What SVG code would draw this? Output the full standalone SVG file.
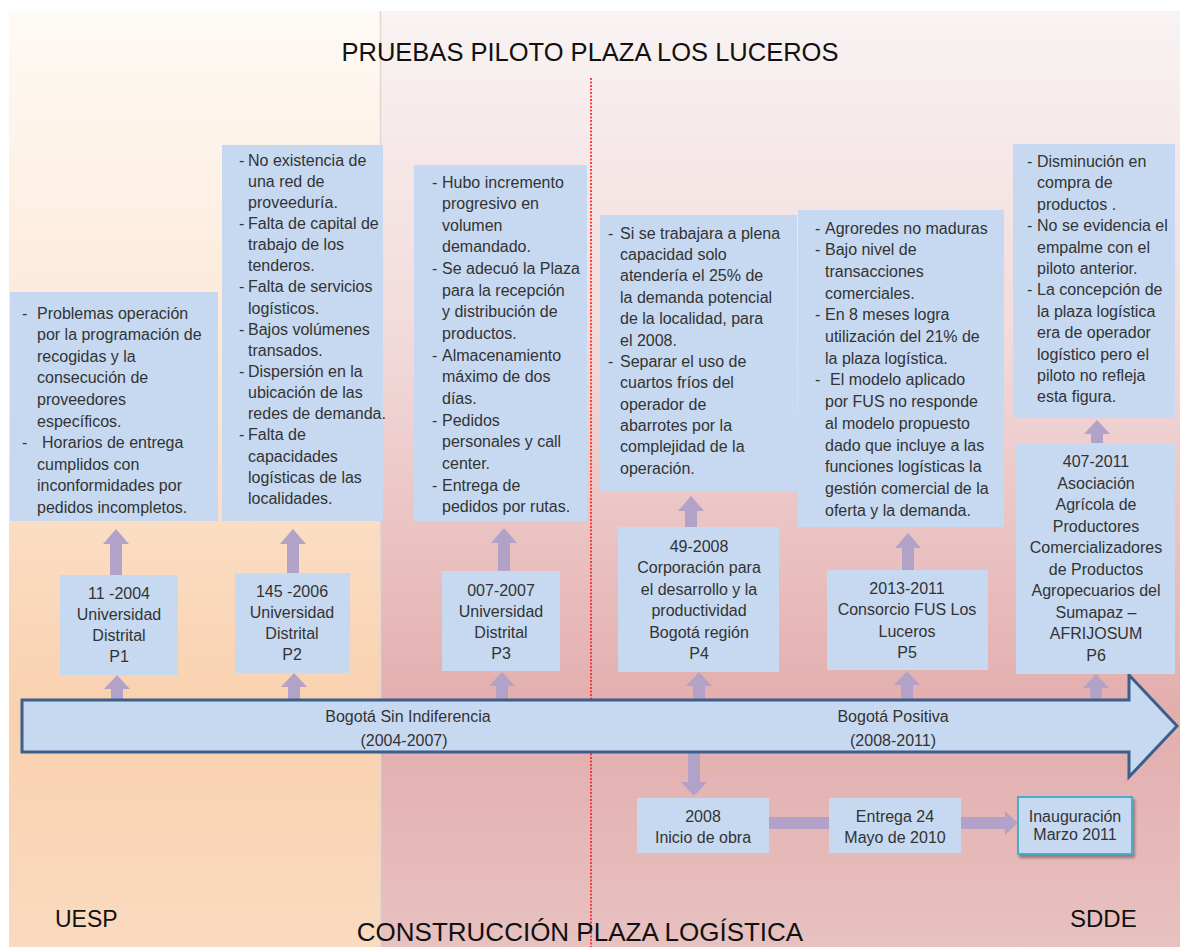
<svg xmlns="http://www.w3.org/2000/svg" width="1180" height="947" viewBox="0 0 1180 947">
<defs>
<linearGradient id="gl" x1="0" y1="0" x2="0" y2="1">
<stop offset="0" stop-color="#FEFAF5"/><stop offset="0.4" stop-color="#FCE6D3"/><stop offset="0.75" stop-color="#F9D1AE"/><stop offset="1" stop-color="#FADAC0"/>
</linearGradient>
<linearGradient id="gr" x1="0" y1="0" x2="0" y2="1">
<stop offset="0" stop-color="#F9F3F3"/><stop offset="0.35" stop-color="#F2DADA"/><stop offset="0.75" stop-color="#E3ADAD"/><stop offset="1" stop-color="#E8C1C1"/>
</linearGradient>
<filter id="sh" x="-10%" y="-10%" width="130%" height="140%"><feDropShadow dx="2" dy="3" stdDeviation="1.5" flood-color="#000" flood-opacity="0.35"/></filter>
<style>
.box{fill:#C6D9F1}
.t{font-family:"Liberation Sans",Arial,sans-serif;font-size:16px;fill:#333}
.c{text-anchor:middle}
.conn{fill:#B3A2C7}
.big{font-family:"Liberation Sans",Arial,sans-serif;fill:#111}
</style>
</defs>
<g id="background">
<rect x="9" y="11" width="371" height="936" fill="url(#gl)"/>
<rect x="380" y="11" width="800" height="936" fill="url(#gr)"/>
<line x1="380.5" y1="11" x2="380.5" y2="947" stroke="#E2D6D2" stroke-width="1.5"/>
<line x1="591" y1="78" x2="591" y2="947" stroke="#FF1A1A" stroke-width="1.6" stroke-dasharray="2,1.5"/>
<text class="big c" x="590" y="61" font-size="25.5">PRUEBAS PILOTO PLAZA LOS LUCEROS</text>
<text class="big" x="55" y="927" font-size="23">UESP</text>
<text class="big c" x="580" y="941" font-size="26">CONSTRUCCIÓN PLAZA LOGÍSTICA</text>
<text class="big" x="1070" y="927" font-size="24">SDDE</text>
</g>
<g id="connectors">
<path class="conn" d="M111,700 V689 H104 L117,675 L130,689 H123 V700 Z"/>
<path class="conn" d="M288,700 V687 H281 L294,673 L307,687 H300 V700 Z"/>
<path class="conn" d="M496,700 V686 H489 L502,672 L515,686 H508 V700 Z"/>
<path class="conn" d="M693,700 V686 H686 L699,672 L712,686 H705 V700 Z"/>
<path class="conn" d="M901,700 V685 H894 L907,671 L920,685 H913 V700 Z"/>
<path class="conn" d="M1090,700 V688 H1083 L1096,674 L1109,688 H1102 V700 Z"/>
<path class="conn" d="M110,575 V544 H103 L116,529 L129,544 H122 V575 Z"/>
<path class="conn" d="M287,573 V544 H280 L293,529 L306,544 H299 V573 Z"/>
<path class="conn" d="M498,571 V543 H491 L504,528 L517,543 H510 V571 Z"/>
<path class="conn" d="M685,527 V511 H678 L691,496 L704,511 H697 V527 Z"/>
<path class="conn" d="M902,570 V548 H895 L908,533 L921,548 H914 V570 Z"/>
<path class="conn" d="M1091,443 V434 H1084 L1097,420 L1110,434 H1103 V443 Z"/>
<path class="conn" d="M688,752 H700 V782 H707 L694,796 L681,782 H688 Z"/>
<rect class="conn" x="769" y="817" width="61" height="12"/>
<path class="conn" d="M961,817 H1005 V811 L1018,823 L1005,835 V829 H961 Z"/>
</g>
<g id="timeline">
<path d="M22,700 H1129 V675 L1177,726 L1129,777 V752 H22 Z" fill="#C6D9F1" stroke="#3A5F8C" stroke-width="3" stroke-linejoin="miter"/>
<text class="t c" font-size="16.5" x="408" y="721.5">Bogotá Sin Indiferencia</text>
<text class="t c" font-size="16.5" x="404" y="745.5">(2004-2007)</text>
<text class="t c" font-size="16.5" x="893" y="721.5">Bogotá Positiva</text>
<text class="t c" font-size="16.5" x="893" y="745.5">(2008-2011)</text>
</g>
<g id="note1">
<rect class="box" x="10" y="292" width="208" height="229"/>
<text class="t" x="22" y="318.5">-</text>
<text class="t" x="22" y="448.1">-</text>
<text class="t"><tspan x="37" y="318.5">Problemas operación</tspan><tspan x="37" dy="21.6">por la programación de</tspan><tspan x="37" dy="21.6">recogidas y la</tspan><tspan x="37" dy="21.6">consecución de</tspan><tspan x="37" dy="21.6">proveedores</tspan><tspan x="37" dy="21.6">específicos.</tspan><tspan x="42" dy="21.6">Horarios de entrega</tspan><tspan x="37" dy="21.6">cumplidos con</tspan><tspan x="37" dy="21.6">inconformidades por</tspan><tspan x="37" dy="21.6">pedidos incompletos.</tspan></text>
</g>
<g id="note2">
<rect class="box" x="222" y="145" width="161" height="376"/>
<text class="t"><tspan x="239" y="165.5">-</tspan><tspan x="239" dy="63.45">-</tspan><tspan x="239" dy="63.45">-</tspan><tspan x="239" dy="42.3">-</tspan><tspan x="239" dy="42.3">-</tspan><tspan x="239" dy="63.45">-</tspan></text>
<text class="t"><tspan x="248" y="165.5">No existencia de</tspan><tspan x="248" dy="21.15">una red  de</tspan><tspan x="248" dy="21.15">proveeduría.</tspan><tspan x="248" dy="21.15">Falta de capital de</tspan><tspan x="248" dy="21.15">trabajo de los</tspan><tspan x="248" dy="21.15">tenderos.</tspan><tspan x="248" dy="21.15">Falta de servicios</tspan><tspan x="248" dy="21.15">logísticos.</tspan><tspan x="248" dy="21.15">Bajos volúmenes</tspan><tspan x="248" dy="21.15">transados.</tspan><tspan x="248" dy="21.15">Dispersión en la</tspan><tspan x="248" dy="21.15">ubicación de las</tspan><tspan x="248" dy="21.15">redes de demanda.</tspan><tspan x="248" dy="21.15">Falta de</tspan><tspan x="248" dy="21.15">capacidades</tspan><tspan x="248" dy="21.15">logísticas de las</tspan><tspan x="248" dy="21.15">localidades.</tspan></text>
</g>
<g id="note3">
<rect class="box" x="414" y="165" width="173" height="356"/>
<text class="t"><tspan x="432" y="187.5">-</tspan><tspan x="432" dy="86.6">-</tspan><tspan x="432" dy="86.6">-</tspan><tspan x="432" dy="64.95">-</tspan><tspan x="432" dy="64.95">-</tspan></text>
<text class="t"><tspan x="442" y="187.5">Hubo incremento</tspan><tspan x="442" dy="21.65">progresivo en</tspan><tspan x="442" dy="21.65">volumen</tspan><tspan x="442" dy="21.65">demandado.</tspan><tspan x="442" dy="21.65">Se adecuó la Plaza</tspan><tspan x="442" dy="21.65">para la recepción</tspan><tspan x="442" dy="21.65">y distribución de</tspan><tspan x="442" dy="21.65">productos.</tspan><tspan x="442" dy="21.65">Almacenamiento</tspan><tspan x="442" dy="21.65">máximo de dos</tspan><tspan x="442" dy="21.65">días.</tspan><tspan x="442" dy="21.65">Pedidos</tspan><tspan x="442" dy="21.65">personales y call</tspan><tspan x="442" dy="21.65">center.</tspan><tspan x="442" dy="21.65">Entrega de</tspan><tspan x="442" dy="21.65">pedidos por rutas.</tspan></text>
</g>
<g id="note4">
<rect class="box" x="600" y="215" width="197" height="276"/>
<text class="t"><tspan x="608" y="238.5">-</tspan><tspan x="608" dy="128.4">-</tspan></text>
<text class="t"><tspan x="620" y="238.5">Si se trabajara a plena</tspan><tspan x="620" dy="21.4">capacidad solo</tspan><tspan x="620" dy="21.4">atendería el 25% de</tspan><tspan x="620" dy="21.4">la demanda potencial</tspan><tspan x="620" dy="21.4">de la localidad, para</tspan><tspan x="620" dy="21.4">el 2008.</tspan><tspan x="620" dy="21.4">Separar el uso de</tspan><tspan x="620" dy="21.4">cuartos fríos del</tspan><tspan x="620" dy="21.4">operador de</tspan><tspan x="620" dy="21.4">abarrotes por la</tspan><tspan x="620" dy="21.4">complejidad de la</tspan><tspan x="620" dy="21.4">operación.</tspan></text>
</g>
<g id="note5">
<rect class="box" x="798" y="210" width="206" height="317"/>
<text class="t"><tspan x="815" y="233.5">-</tspan><tspan x="815" dy="21.7">-</tspan><tspan x="815" dy="65.1">-</tspan><tspan x="815" dy="65.1">-</tspan></text>
<text class="t"><tspan x="825" y="233.5">Agroredes no maduras</tspan><tspan x="825" dy="21.7">Bajo nivel de</tspan><tspan x="825" dy="21.7">transacciones</tspan><tspan x="825" dy="21.7">comerciales.</tspan><tspan x="825" dy="21.7">En 8 meses logra</tspan><tspan x="825" dy="21.7">utilización del 21% de</tspan><tspan x="825" dy="21.7">la plaza logística.</tspan><tspan x="830" dy="21.7">El modelo aplicado</tspan><tspan x="825" dy="21.7">por FUS no responde</tspan><tspan x="825" dy="21.7">al modelo propuesto</tspan><tspan x="825" dy="21.7">dado que incluye a las</tspan><tspan x="825" dy="21.7">funciones logísticas la</tspan><tspan x="825" dy="21.7">gestión comercial de la</tspan><tspan x="825" dy="21.7">oferta y la demanda.</tspan></text>
</g>
<g id="note6">
<rect class="box" x="1013" y="144" width="162" height="274"/>
<text class="t"><tspan x="1027" y="167">-</tspan><tspan x="1027" dy="64.2">-</tspan><tspan x="1027" dy="64.2">-</tspan></text>
<text class="t"><tspan x="1037" y="167">Disminución en</tspan><tspan x="1037" dy="21.4">compra de</tspan><tspan x="1037" dy="21.4">productos .</tspan><tspan x="1037" dy="21.4">No se evidencia el</tspan><tspan x="1037" dy="21.4">empalme con el</tspan><tspan x="1037" dy="21.4">piloto anterior.</tspan><tspan x="1037" dy="21.4">La concepción de</tspan><tspan x="1037" dy="21.4">la plaza logística</tspan><tspan x="1037" dy="21.4">era de operador</tspan><tspan x="1037" dy="21.4">logístico pero el</tspan><tspan x="1037" dy="21.4">piloto no refleja</tspan><tspan x="1037" dy="21.4">esta figura.</tspan></text>
</g>
<g id="P1">
<rect class="box" x="60" y="575" width="118" height="100"/>
<text class="t c"><tspan x="119" y="598.5">11 -2004</tspan><tspan x="119" dy="21.3">Universidad</tspan><tspan x="119" dy="21.3">Distrital</tspan><tspan x="119" dy="21.3">P1</tspan></text>
</g>
<g id="P2">
<rect class="box" x="235" y="573" width="115" height="100"/>
<text class="t c"><tspan x="292" y="596.5">145 -2006</tspan><tspan x="292" dy="21.3">Universidad</tspan><tspan x="292" dy="21.3">Distrital</tspan><tspan x="292" dy="21.3">P2</tspan></text>
</g>
<g id="P3">
<rect class="box" x="442" y="571" width="118" height="100"/>
<text class="t c"><tspan x="501" y="595.5">007-2007</tspan><tspan x="501" dy="21.3">Universidad</tspan><tspan x="501" dy="21.3">Distrital</tspan><tspan x="501" dy="21.3">P3</tspan></text>
</g>
<g id="P4">
<rect class="box" x="618" y="527" width="161" height="145"/>
<text class="t c"><tspan x="699" y="551.5">49-2008</tspan><tspan x="699" dy="21.5">Corporación para</tspan><tspan x="699" dy="21.5">el desarrollo y la</tspan><tspan x="699" dy="21.5">productividad</tspan><tspan x="699" dy="21.5">Bogotá región</tspan><tspan x="699" dy="21.5">P4</tspan></text>
</g>
<g id="P5">
<rect class="box" x="827" y="570" width="161" height="100"/>
<text class="t c"><tspan x="907" y="593.5">2013-2011</tspan><tspan x="907" dy="21.5">Consorcio FUS Los</tspan><tspan x="907" dy="21.5">Luceros</tspan><tspan x="907" dy="21.5">P5</tspan></text>
</g>
<g id="P6">
<rect class="box" x="1016" y="443" width="159" height="231"/>
<text class="t c"><tspan x="1096" y="467">407-2011</tspan><tspan x="1096" dy="21.5">Asociación</tspan><tspan x="1096" dy="21.5">Agrícola de</tspan><tspan x="1096" dy="21.5">Productores</tspan><tspan x="1096" dy="21.5">Comercializadores</tspan><tspan x="1096" dy="21.5">de Productos</tspan><tspan x="1096" dy="21.5">Agropecuarios del</tspan><tspan x="1096" dy="21.5">Sumapaz –</tspan><tspan x="1096" dy="21.5">AFRIJOSUM</tspan><tspan x="1096" dy="21.5">P6</tspan></text>
</g>
<g id="obra">
<rect class="box" x="637" y="798" width="132" height="55"/>
<text class="t c"><tspan x="703" y="821.5">2008</tspan><tspan x="703" dy="21">Inicio de obra</tspan></text>
</g>
<g id="entrega">
<rect class="box" x="829" y="798" width="132" height="55"/>
<text class="t c"><tspan x="895" y="821.5">Entrega 24</tspan><tspan x="895" dy="21">Mayo de 2010</tspan></text>
</g>
<g id="inauguracion">
<rect class="box" x="1018" y="797" width="114" height="57" stroke="#4BACC6" stroke-width="2" filter="url(#sh)"/>
<text class="t c" font-size="14"><tspan x="1075" y="821.5">Inauguración</tspan><tspan x="1075" dy="18.5">Marzo 2011</tspan></text>
</g>
</svg>
